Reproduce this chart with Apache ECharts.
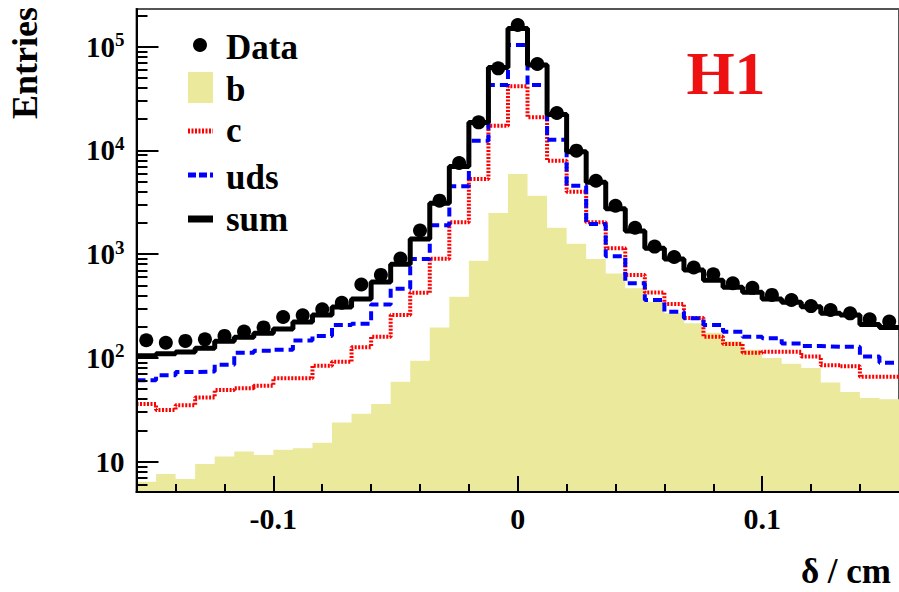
<!DOCTYPE html>
<html><head><meta charset="utf-8">
<script src="https://cdn.jsdelivr.net/npm/echarts@6/dist/echarts.min.js"></script>
<style>html,body{margin:0;padding:0;background:#fff}#c{width:899px;height:592px}</style>
</head><body><div id="c"></div>
<script>
// bin centres (cm), bin width 0.008
const binCenters = [-0.152,-0.144,-0.136,-0.128,-0.120,-0.112,-0.104,-0.096,-0.088,-0.080,-0.072,-0.064,-0.056,-0.048,-0.040,-0.032,-0.024,-0.016,-0.008,0,0.008,0.016,0.024,0.032,0.040,0.048,0.056,0.064,0.072,0.080,0.088,0.096,0.104,0.112,0.120,0.128,0.136,0.144,0.152];
const dataVals = [148,140,146,151,163,180,197,248,258,294,340,510,631,910,1690,3280,7570,18660,61900,161900,68100,22970,9960,5110,2930,1800,1183,940,745,640,525,474,405,362,316,290,269,236,224];
const sumVals  = [105,110,114,124,145,158,173,190,222,260,310,370,540,800,1400,3100,7000,18600,63000,150000,66800,22200,9700,4930,2740,1670,1140,900,705,560,480,430,370,345,312,270,259,210,197];
const udsVals  = [61,68,73,74,86,112,117,120,147,163,208,214,327,465,900,1900,4510,12400,42800,103800,42800,12700,4570,1955,956,525,362,279,241,208,179,160,155,138,130,128,128,103,90];
const cVals    = [36,31.5,35,41.5,49,51,54,63.7,63.7,84,92,127,160,260,424,905,2030,5310,17300,41500,20900,7960,4000,2030,1140,631,428,331,243,160,136,112,115,115,103,85,83,66,66];
const bVals    = [6.4,7.6,6.8,9.5,11.2,12.5,11.6,13,13.5,15.2,23.8,29,36,59,94,197,389,865,2500,5930,3650,1800,1260,900,650,470,348,269,216,175,145,120,100,88,80,58,47,41,40];
const xTickMajor = [-0.1, 0, 0.1];
const xTickMinor = [-0.14,-0.12,-0.08,-0.06,-0.04,-0.02,0.02,0.04,0.06,0.08,0.12,0.14];
const yTickMajor = [10, 100, 1000, 10000, 100000];
const yTickMinor = [6,7,8,9,20,30,40,50,60,70,80,90,200,300,400,500,600,700,800,900,2000,3000,4000,5000,6000,7000,8000,9000,20000,30000,40000,50000,60000,70000,80000,90000,200000];
const legendNames = ['Data','b','c','uds','sum'];

const binWidth = 0.008;
function stepData(vals){
  const pts = binCenters.map((c,i)=>[c - binWidth/2, vals[i]]);
  pts.push([binCenters[binCenters.length-1] + binWidth/2, vals[vals.length-1]]);
  return pts;
}
const FF = '"Liberation Serif","Times New Roman",serif';
const XMIN = -0.156, XMAX = 0.156, YMIN = 5.1, YMAX = 231000;
const LMIN = Math.log10(YMIN), LMAX = Math.log10(YMAX);
const tickStyle = {color:'#000', width:2};

const chart = echarts.init(document.getElementById('c'), null, {renderer:'svg'});
chart.setOption({
  animation:false,
  backgroundColor:'#fff',
  grid:{left:136.5, right:-3, top:9, bottom:100, show:true, borderColor:'#555', borderWidth:2, backgroundColor:'transparent'},
  xAxis:[
    {type:'value', min:XMIN, max:XMAX, position:'bottom', z:10,
     axisLine:{show:true, onZero:false, lineStyle:{color:'#000', width:2}},
     axisTick:{show:true, inside:true, length:16, customValues:xTickMajor, lineStyle:tickStyle},
     axisLabel:{customValues:xTickMajor, margin:11, color:'#000', fontFamily:FF, fontWeight:'bold', fontSize:30,
       formatter:v=>String(v)},
     splitLine:{show:false}},
    {type:'value', min:XMIN, max:XMAX, position:'bottom', z:10,
     axisLine:{show:false, onZero:false},
     axisTick:{show:true, inside:true, length:8, customValues:xTickMinor, lineStyle:tickStyle},
     axisLabel:{show:false}, splitLine:{show:false}}
  ],
  yAxis:[
    {type:'log', logBase:10, min:YMIN, max:YMAX, position:'left', z:10,
     axisLine:{show:true, onZero:false, lineStyle:{color:'#000', width:2}},
     axisTick:{show:false},
     axisLabel:{customValues:yTickMajor, margin:12, color:'#000',
       formatter:v=>{const e=Math.round(Math.log10(v)); return e===1?'{b|10}':'{b|10}{s|'+e+'}';},
       rich:{b:{fontFamily:FF, fontWeight:'bold', fontSize:29, color:'#000'},
             s:{fontFamily:FF, fontWeight:'bold', fontSize:19, color:'#000', padding:[0,0,14,0]}}},
     splitLine:{show:false}},
    // tick-only axes in log10 units (same span as the log axis)
    {type:'value', min:LMIN, max:LMAX, position:'left', z:10,
     axisLine:{show:false, onZero:false},
     axisTick:{show:true, inside:true, length:22, customValues:yTickMajor.map(v=>Math.log10(v)), lineStyle:tickStyle},
     axisLabel:{show:false}, splitLine:{show:false}},
    {type:'value', min:LMIN, max:LMAX, position:'left', z:10,
     axisLine:{show:false, onZero:false},
     axisTick:{show:true, inside:true, length:11, customValues:yTickMinor.map(v=>Math.log10(v)), lineStyle:tickStyle},
     axisLabel:{show:false}, splitLine:{show:false}}
  ],
  series:[
    {name:'b', type:'line', step:'end', data:stepData(bVals), symbol:'none', z:1,
     lineStyle:{width:0}, areaStyle:{color:'#ebe99c', opacity:1, origin:'start'}},
    {name:'c', type:'line', step:'end', data:stepData(cVals), symbol:'none', z:3,
     lineStyle:{color:'#ff0000', width:4, type:[2,1.5]}},
    {name:'uds', type:'line', step:'end', data:stepData(udsVals), symbol:'none', z:4,
     lineStyle:{color:'#0000ff', width:4, type:[9,5]}},
    {name:'sum', type:'line', step:'end', data:stepData(sumVals), symbol:'none', z:5,
     lineStyle:{color:'#000', width:5}},
    {name:'Data', type:'scatter', data:binCenters.map((c,i)=>[c, dataVals[i]]), symbol:'circle', symbolSize:14, z:6,
     itemStyle:{color:'#000', opacity:1}}
  ],
  graphic:[
    {type:'circle', shape:{cx:200, cy:45, r:7}, style:{fill:'#000'}},
    {type:'rect', shape:{x:188, y:72, width:25, height:31}, style:{fill:'#ebe99c'}},
    {type:'line', shape:{x1:188, y1:131, x2:213, y2:131}, style:{stroke:'#ff0000', lineWidth:5, lineDash:[2,1.5]}},
    {type:'line', shape:{x1:188, y1:175, x2:213, y2:175}, style:{stroke:'#0000ff', lineWidth:5, lineDash:[8,3]}},
    {type:'line', shape:{x1:188, y1:219, x2:213, y2:219}, style:{stroke:'#000', lineWidth:7}},
    {type:'text', x:226, y:47.5, style:{text:legendNames[0], font:'bold 35px '+FF, fill:'#000', verticalAlign:'middle'}},
    {type:'text', x:226, y:89, style:{text:legendNames[1], font:'bold 35px '+FF, fill:'#000', verticalAlign:'middle'}},
    {type:'text', x:226, y:130, style:{text:legendNames[2], font:'bold 35px '+FF, fill:'#000', verticalAlign:'middle'}},
    {type:'text', x:226, y:177, style:{text:legendNames[3], font:'bold 35px '+FF, fill:'#000', verticalAlign:'middle'}},
    {type:'text', x:226, y:219, style:{text:legendNames[4], font:'bold 35px '+FF, fill:'#000', verticalAlign:'middle'}},
    {type:'text', x:726, y:73, style:{text:'H1', font:'bold 62px '+FF, fill:'#ee1111', align:'center', verticalAlign:'middle'}},
    {type:'text', x:25, y:63, rotation:Math.PI/2, style:{text:'Entries', font:'bold 36px '+FF, fill:'#000', align:'center', verticalAlign:'middle'}},
    {type:'text', x:891, y:571, style:{text:'δ / cm', font:'bold 35px '+FF, fill:'#000', align:'right', verticalAlign:'middle'}}
  ]
});
</script></body></html>
